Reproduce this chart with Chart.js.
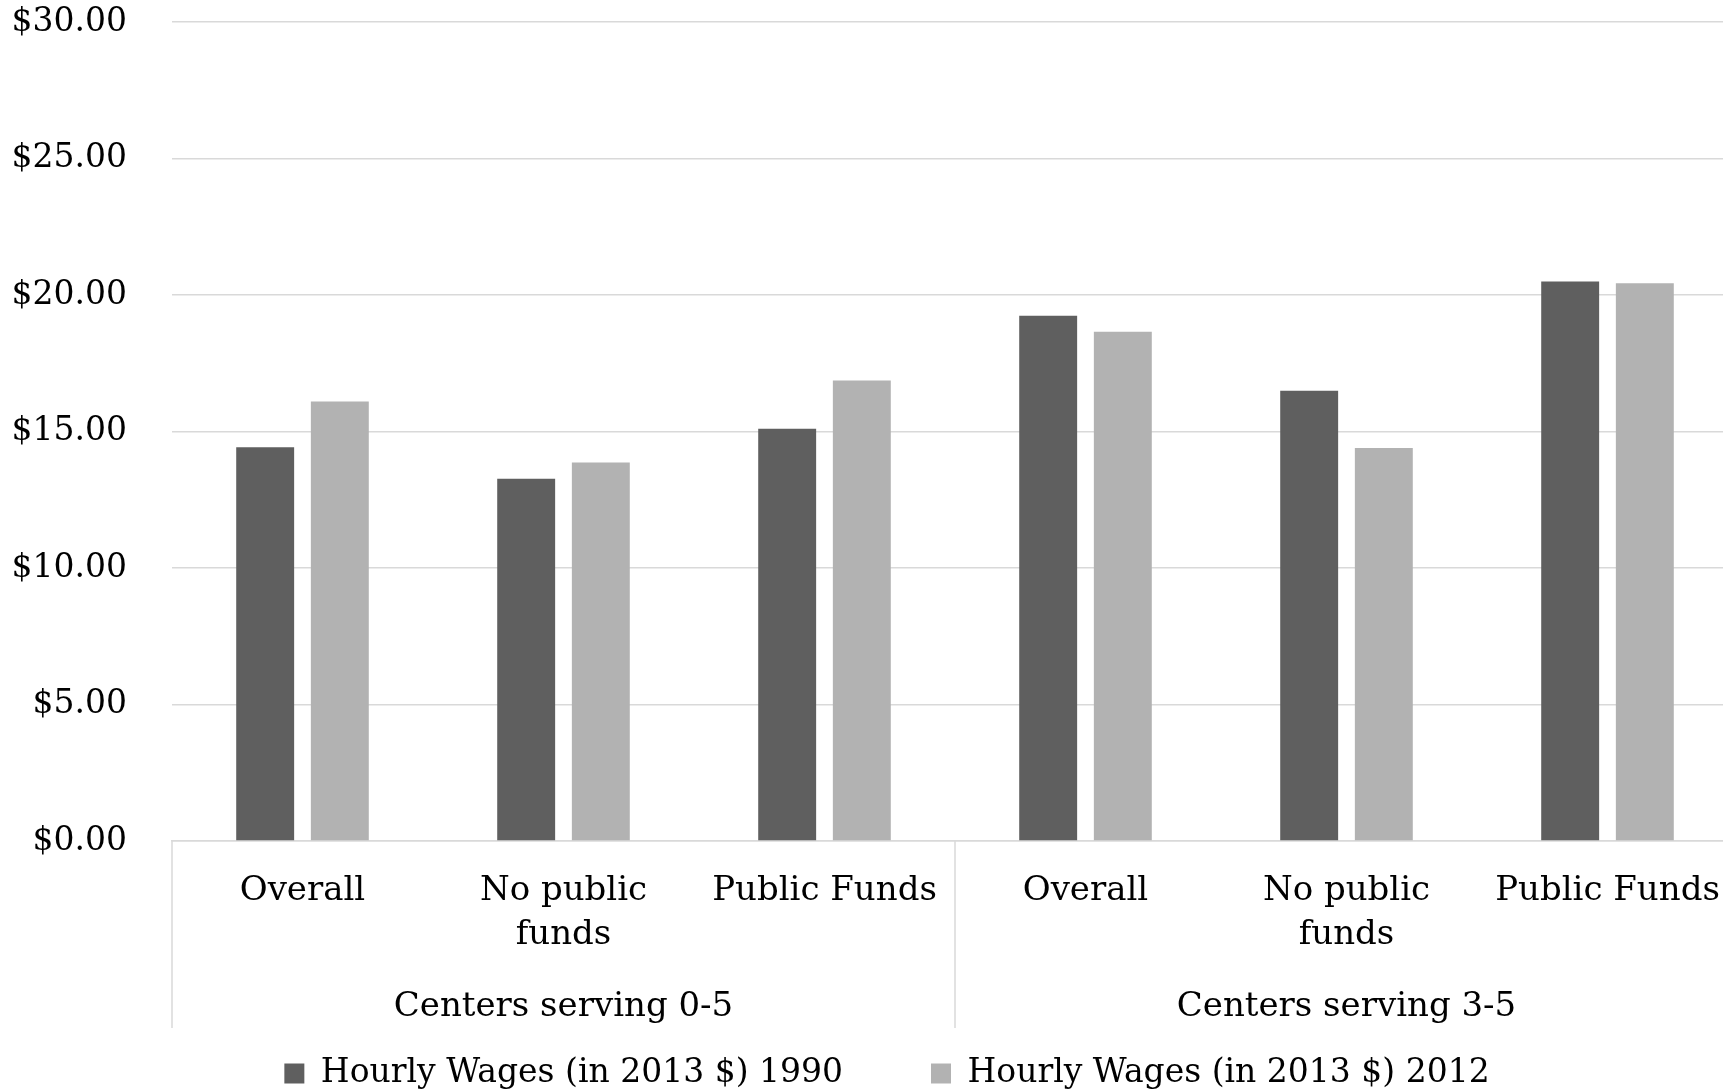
<!DOCTYPE html>
<html>
<head>
<meta charset="utf-8">
<script src="https://cdn.jsdelivr.net/npm/chart.js@4.4.1/dist/chart.umd.min.js"></script>
<style>
  html, body { margin: 0; padding: 0; background: #fff; overflow: hidden; }
  #wrap { width: 1723px; height: 1092px; overflow: hidden; }
</style>
</head>
<body>
<div id="wrap"><canvas id="wageChart" width="1738" height="1092"></canvas></div>
<script>
// 类别（两级）
const subCategories = [['Overall'], ['No public', 'funds'], ['Public Funds'], ['Overall'], ['No public', 'funds'], ['Public Funds']];
const groupLabels = ['Centers serving 0-5', 'Centers serving 3-5'];
const groupSizes = [3, 3];

// 数据
const seriesNames = ['Hourly Wages (in 2013 $) 1990', 'Hourly Wages (in 2013 $) 2012'];
const wages1990 = [14.42, 13.27, 15.10, 19.24, 16.49, 20.49];
const wages2012 = [16.10, 13.86, 16.87, 18.65, 14.40, 20.43];

const FONT = "'DejaVu Serif', serif";
const GRID = '#d9d9d9';

// 底部两级类别轴：分组标签和分隔线
const groupAxisPlugin = {
    id: 'groupAxis',
    afterLayout(chart) {
        // 图例整体略向右偏
        chart.legend.left += 36;
    },
    afterDraw(chart) {
        const ctx = chart.ctx;
        const x = chart.scales.x;
        const area = chart.chartArea;
        const lineBottom = area.bottom + 187;
        ctx.save();
        ctx.strokeStyle = GRID;
        ctx.lineWidth = 1.5;
        let start = 0;
        const bounds = [area.left];
        groupSizes.forEach(function(n) {
            const end = start + n - 1;
            const right = end + 1 < subCategories.length
                ? (x.getPixelForValue(end) + x.getPixelForValue(end + 1)) / 2
                : area.right;
            bounds.push(right);
            start += n;
        });
        bounds.forEach(function(bx) {
            ctx.beginPath();
            ctx.moveTo(bx, area.bottom);
            ctx.lineTo(bx, lineBottom);
            ctx.stroke();
        });
        ctx.fillStyle = '#000';
        ctx.font = '34px ' + FONT;
        ctx.textAlign = 'center';
        ctx.textBaseline = 'middle';
        groupLabels.forEach(function(label, i) {
            ctx.fillText(label, (bounds[i] + bounds[i + 1]) / 2, area.bottom + 166);
        });
        ctx.restore();
    }
};

new Chart(document.getElementById('wageChart').getContext('2d'), {
    type: 'bar',
    data: {
        labels: subCategories,
        datasets: [
            {
                label: seriesNames[0],
                data: wages1990,
                backgroundColor: '#5f5f5f',
                categoryPercentage: 0.572,
                barPercentage: 0.776
            },
            {
                label: seriesNames[1],
                data: wages2012,
                backgroundColor: '#b2b2b2',
                categoryPercentage: 0.572,
                barPercentage: 0.776
            }
        ]
    },
    options: {
        responsive: false,
        animation: false,
        layout: {
            padding: { top: 0, left: 0, right: 0, bottom: -8 }
        },
        plugins: {
            legend: {
                position: 'bottom',
                labels: {
                    color: '#000',
                    font: { family: FONT, size: 33 },
                    boxWidth: 20,
                    boxHeight: 20,
                    padding: 88
                }
            },
            tooltip: { enabled: false }
        },
        scales: {
            x: {
                grid: { display: false, drawTicks: false },
                border: { display: true, color: GRID, width: 1.5 },
                ticks: {
                    color: '#000',
                    font: { family: FONT, size: 34, lineHeight: 1.3 },
                    padding: 28,
                    maxRotation: 0,
                    autoSkip: false
                },
                afterFit: function(scale) {
                    scale.height = 128;
                    scale.paddingLeft = 0;
                    scale.paddingRight = 0;
                }
            },
            y: {
                min: 0,
                max: 30,
                grid: { color: GRID, lineWidth: 1.5, drawTicks: false },
                border: { display: false },
                ticks: {
                    stepSize: 5,
                    color: '#000',
                    font: { family: FONT, size: 33 },
                    padding: 45,
                    callback: function(v) {
                        return '$' + v.toFixed(2);
                    }
                },
                afterFit: function(scale) {
                    scale.width = 172;
                    scale.paddingTop = 22;
                    scale.paddingBottom = 0;
                }
            }
        }
    },
    plugins: [groupAxisPlugin]
});
</script>
</body>
</html>
